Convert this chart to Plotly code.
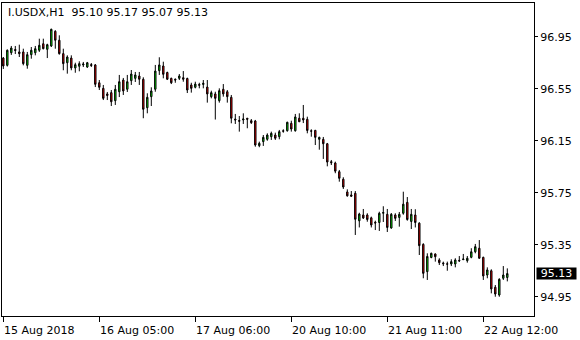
import plotly.graph_objects as go

symbol = "I.USDX,H1"
last_ohlc = ["95.10", "95.17", "95.07", "95.13"]

open_ = [96.788, 96.732, 96.829, 96.854, 96.835, 96.835, 96.732, 96.814, 96.829, 96.848,
 96.898, 96.855, 96.881, 96.994, 96.925, 96.822, 96.752, 96.788, 96.712, 96.725,
 96.735, 96.719, 96.738, 96.735, 96.598, 96.555, 96.512, 96.522, 96.460, 96.529,
 96.619, 96.548, 96.614, 96.632, 96.650, 96.625, 96.406, 96.491, 96.548, 96.691,
 96.727, 96.677, 96.632, 96.625, 96.632, 96.637, 96.631, 96.581, 96.563, 96.585,
 96.585, 96.565, 96.491, 96.512, 96.460, 96.548, 96.529, 96.486, 96.319, 96.308,
 96.312, 96.325, 96.306, 96.304, 96.114, 96.145, 96.163, 96.183, 96.196, 96.183,
 96.229, 96.229, 96.286, 96.229, 96.325, 96.325, 96.317, 96.229, 96.232, 96.163,
 96.163, 96.129, 95.991, 95.981, 95.914, 95.856, 95.758, 95.735, 95.748, 95.536,
 95.581, 95.581, 95.559, 95.525, 95.523, 95.594, 95.586, 95.481, 95.581, 95.562,
 95.594, 95.678, 95.531, 95.581, 95.518, 95.355, 95.145, 95.254, 95.281, 95.235,
 95.212, 95.206, 95.204, 95.204, 95.232, 95.237, 95.229, 95.255, 95.298, 95.325,
 95.255, 95.119, 95.152, 95.025, 94.965, 95.094, 95.10]

high = [96.796, 96.854, 96.881, 96.881, 96.891, 96.860, 96.835, 96.873, 96.881, 96.937,
 96.937, 96.898, 97.014, 97.002, 96.963, 96.860, 96.809, 96.809, 96.752, 96.763,
 96.758, 96.758, 96.750, 96.742, 96.619, 96.581, 96.527, 96.542, 96.581, 96.658,
 96.635, 96.658, 96.696, 96.681, 96.681, 96.640, 96.517, 96.563, 96.735, 96.794,
 96.760, 96.683, 96.637, 96.631, 96.665, 96.688, 96.637, 96.598, 96.606, 96.598,
 96.619, 96.619, 96.537, 96.529, 96.555, 96.588, 96.542, 96.504, 96.358, 96.342,
 96.363, 96.327, 96.319, 96.312, 96.145, 96.196, 96.209, 96.222, 96.214, 96.235,
 96.240, 96.298, 96.306, 96.358, 96.363, 96.427, 96.337, 96.240, 96.235, 96.183,
 96.181, 96.135, 96.004, 95.991, 95.927, 95.871, 95.778, 95.765, 95.765, 95.598,
 95.627, 95.594, 95.568, 95.537, 95.606, 95.648, 95.627, 95.596, 95.594, 95.604,
 95.760, 95.719, 95.627, 95.625, 95.525, 95.363, 95.286, 95.291, 95.285, 95.248,
 95.222, 95.222, 95.240, 95.248, 95.265, 95.281, 95.265, 95.325, 95.358, 95.388,
 95.260, 95.178, 95.163, 95.042, 95.094, 95.188, 95.17]

low = [96.704, 96.723, 96.812, 96.819, 96.796, 96.732, 96.706, 96.783, 96.809, 96.835,
 96.855, 96.788, 96.873, 96.860, 96.814, 96.694, 96.668, 96.694, 96.675, 96.686,
 96.719, 96.712, 96.719, 96.565, 96.542, 96.465, 96.465, 96.419, 96.427, 96.488,
 96.504, 96.527, 96.581, 96.604, 96.581, 96.325, 96.363, 96.419, 96.529, 96.658,
 96.632, 96.619, 96.588, 96.598, 96.619, 96.606, 96.519, 96.522, 96.555, 96.555,
 96.555, 96.445, 96.478, 96.315, 96.445, 96.491, 96.445, 96.286, 96.281, 96.222,
 96.281, 96.248, 96.281, 96.106, 96.102, 96.112, 96.152, 96.158, 96.158, 96.163,
 96.214, 96.222, 96.222, 96.222, 96.296, 96.288, 96.209, 96.183, 96.119, 96.083,
 96.012, 95.955, 95.965, 95.902, 95.837, 95.781, 95.722, 95.722, 95.427, 95.485,
 95.550, 95.529, 95.485, 95.465, 95.458, 95.527, 95.450, 95.475, 95.535, 95.491,
 95.583, 95.537, 95.473, 95.485, 95.273, 95.094, 95.081, 95.248, 95.222, 95.196,
 95.188, 95.152, 95.188, 95.178, 95.222, 95.235, 95.214, 95.248, 95.286, 95.245,
 95.081, 95.094, 94.978, 94.952, 94.952, 95.081, 95.07]

close = [96.727, 96.848, 96.865, 96.846, 96.822, 96.745, 96.814, 96.848, 96.860, 96.886,
 96.860, 96.891, 97.009, 96.925, 96.822, 96.745, 96.796, 96.712, 96.737, 96.745,
 96.742, 96.752, 96.731, 96.586, 96.563, 96.478, 96.500, 96.452, 96.548, 96.606,
 96.535, 96.606, 96.665, 96.658, 96.625, 96.394, 96.486, 96.535, 96.688, 96.735,
 96.663, 96.625, 96.598, 96.619, 96.650, 96.625, 96.542, 96.555, 96.588, 96.579,
 96.594, 96.512, 96.522, 96.478, 96.537, 96.512, 96.491, 96.325, 96.312, 96.302,
 96.319, 96.317, 96.291, 96.119, 96.132, 96.178, 96.196, 96.209, 96.171, 96.222,
 96.225, 96.294, 96.242, 96.335, 96.298, 96.312, 96.231, 96.225, 96.178, 96.178,
 96.129, 95.988, 95.983, 95.918, 95.863, 95.796, 95.728, 95.725, 95.548, 95.588,
 95.558, 95.546, 95.504, 95.519, 95.594, 95.600, 95.485, 95.586, 95.555, 95.586,
 95.664, 95.546, 95.586, 95.523, 95.345, 95.132, 95.262, 95.286, 95.260, 95.214,
 95.206, 95.202, 95.222, 95.235, 95.227, 95.242, 95.248, 95.298, 95.337, 95.248,
 95.112, 95.158, 95.012, 94.973, 95.086, 95.119, 95.13]

bar_index = list(range(len(open_)))

x_tick_bars = [0, 24, 48, 72, 96, 120]
x_tick_labels = ["15 Aug 2018", "16 Aug 05:00", "17 Aug 06:00",
                 "20 Aug 10:00", "21 Aug 11:00", "22 Aug 12:00"]
y_ticks = [94.95, 95.35, 95.75, 96.15, 96.55, 96.95]
current_price = 95.13

FONT = "DejaVu Sans"

fig = go.Figure()
fig.add_trace(go.Candlestick(
    x=bar_index, open=open_, high=high, low=low, close=close,
    increasing=dict(line=dict(color="black", width=1), fillcolor="#00ff00"),
    decreasing=dict(line=dict(color="black", width=1), fillcolor="#ff0000"),
    whiskerwidth=0, hoverinfo="skip", showlegend=False,
))

annotations = []
annotations.append(dict(
    text=symbol + "\u00a0\u00a0" + " ".join(last_ohlc),
    xref="paper", yref="paper", x=0, y=1, xanchor="left", yanchor="top",
    xshift=4, yshift=-1, showarrow=False,
    font=dict(family=FONT, size=11, color="black"),
))
for xv, lab in zip(x_tick_bars, x_tick_labels):
    annotations.append(dict(
        text=lab, xref="x", yref="paper", x=xv, y=0,
        xanchor="left", yanchor="middle", xshift=-1, yshift=-14,
        showarrow=False, font=dict(family=FONT, size=11, color="black"),
    ))
annotations.append(dict(
    text=f"{current_price:.2f}", xref="paper", yref="y", x=1, y=current_price,
    xanchor="left", yanchor="middle", xshift=2, showarrow=False,
    bgcolor="black", borderpad=0, width=39, height=11,
    font=dict(family=FONT, size=11, color="white"),
))

fig.update_layout(
    width=580, height=340,
    margin=dict(l=2, r=46, t=3, b=24),
    paper_bgcolor="white", plot_bgcolor="white",
    boxgap=0.5,
    annotations=annotations,
    xaxis=dict(
        range=[-0.325, 132.675], rangeslider=dict(visible=False),
        showgrid=False, zeroline=False,
        showline=True, linecolor="black", linewidth=1, mirror=True,
        tickmode="array", tickvals=x_tick_bars, ticks="outside", ticklen=5,
        tickcolor="black", showticklabels=False,
    ),
    yaxis=dict(
        range=[94.8038, 97.2115], side="right",
        showgrid=False, zeroline=False,
        showline=True, linecolor="black", linewidth=1, mirror=True,
        tickmode="array", tickvals=y_ticks, ticktext=[f"{v:.2f}" for v in y_ticks],
        ticks="outside", ticklen=3, tickcolor="black",
        tickfont=dict(family=FONT, size=11, color="black"),
    ),
)

fig.write_html("out.html")
